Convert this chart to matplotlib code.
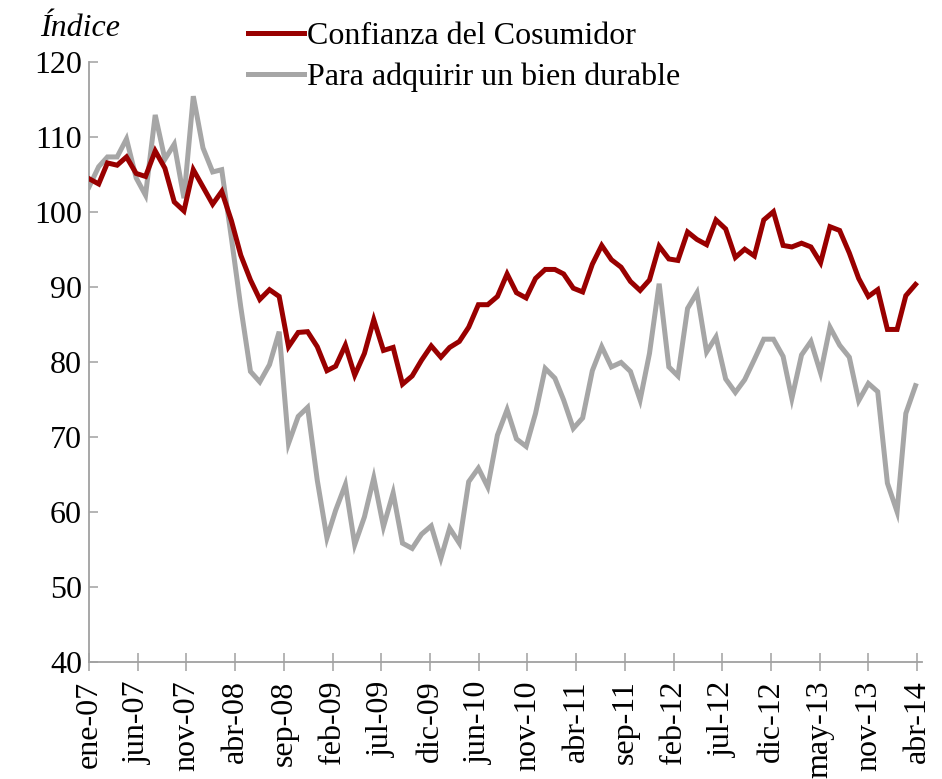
import numpy as np
import pandas as pd
import matplotlib
matplotlib.use("Agg")
import matplotlib.pyplot as plt

plt.rcParams['font.family'] = ['Liberation Serif', 'DejaVu Serif']

# datos mensuales ene-07 .. abr-14
fechas = pd.date_range('2007-01-01', periods=88, freq='MS')

confianza = [104.4, 103.7, 106.5, 106.2, 107.3, 105.1, 104.7, 108.1, 105.8, 101.3,
             100.1, 105.6, 103.3, 101.0, 102.7, 98.8, 94.2, 90.9, 88.3, 89.6,
             88.7, 82.0, 83.9, 84.0, 82.0, 78.8, 79.4, 82.2, 78.2, 81.1,
             85.6, 81.5, 81.9, 77.0, 78.1, 80.2, 82.1, 80.6, 81.9, 82.7,
             84.6, 87.6, 87.6, 88.7, 91.7, 89.2, 88.5, 91.1, 92.3, 92.3,
             91.7, 89.8, 89.3, 93.0, 95.5, 93.6, 92.6, 90.7, 89.5, 90.9,
             95.4, 93.7, 93.5, 97.3, 96.3, 95.6, 98.9, 97.7, 93.9, 95.0,
             94.1, 98.9, 100.0, 95.5, 95.3, 95.8, 95.3, 93.2, 98.0, 97.5,
             94.5, 91.1, 88.7, 89.6, 84.3, 84.3, 88.8, 90.3]

durable = [103.3, 106.0, 107.3, 107.3, 109.7, 104.5, 102.2, 112.9, 107.0, 109.0,
           101.8, 115.4, 108.5, 105.3, 105.6, 96.5, 87.3, 78.7, 77.3, 79.6,
           84.0, 69.1, 72.7, 73.9, 64.2, 56.5, 60.2, 63.6, 55.6, 59.3,
           64.5, 58.0, 62.5, 55.8, 55.1, 57.0, 58.1, 53.8, 57.8, 55.8,
           64.0, 65.8, 63.3, 70.2, 73.6, 69.7, 68.7, 73.1, 79.1, 77.8,
           74.9, 71.1, 72.5, 78.8, 82.0, 79.3, 79.9, 78.7, 74.9, 81.1,
           90.4, 79.3, 78.1, 87.1, 89.2, 81.3, 83.3, 77.7, 75.9, 77.6,
           80.3, 83.0, 83.0, 80.7, 75.1, 80.9, 82.7, 78.5, 84.6, 82.2,
           80.6, 74.8, 77.1, 76.0, 63.8, 60.0, 73.1, 76.8]

etiquetas = ['ene-07', 'jun-07', 'nov-07', 'abr-08', 'sep-08', 'feb-09', 'jul-09',
             'dic-09', 'jun-10', 'nov-10', 'abr-11', 'sep-11', 'feb-12', 'jul-12',
             'dic-12', 'may-13', 'nov-13', 'abr-14']

rojo = '#990000'
gris = '#A6A6A6'
eje = '#A0A0A0'

fig = plt.figure(figsize=(9.42, 7.79), dpi=100)
ax = fig.add_axes([0.0945, 0.1506, 0.884, 0.7702])

ax.plot(fechas, confianza, color=rojo, lw=3.6, label='Confianza del Cosumidor',
        solid_joinstyle='miter', zorder=3)
ax.plot(fechas, durable, color=gris, lw=3.6, label='Para adquirir un bien durable',
        solid_joinstyle='miter', zorder=2)

# eje de fechas: marcas cada 156 dias desde ene-07
inicio = pd.Timestamp('2007-01-01')
marcas = [inicio + pd.Timedelta(days=156 * k) for k in range(len(etiquetas))]
ax.set_xticks(marcas)
ax.set_xticklabels(etiquetas, rotation=90, fontsize=23)
ax.set_xlim(inicio, inicio + pd.Timedelta(days=2667))

ax.set_ylim(40, 120)
ax.set_yticks(np.arange(40, 121, 10))
ax.tick_params(axis='y', direction='in', length=6.5, width=1.1, color=eje,
               labelsize=23, pad=5)
ax.tick_params(axis='x', direction='inout', length=13, width=1.1, color=eje, pad=7)

for s in ['top', 'right']:
    ax.spines[s].set_visible(False)
for s in ['left', 'bottom']:
    ax.spines[s].set_color(eje)
    ax.spines[s].set_linewidth(1.3)

fig.text(40 / 942, 1 - 28 / 779, 'Índice', fontsize=23, style='italic',
         ha='left', va='center')

fig.legend(loc='upper left', bbox_to_anchor=(248 / 942, 1 - 22 / 779),
           frameon=False, fontsize=23, handlelength=1.75, handletextpad=0.1,
           labelspacing=0.36, borderpad=0, borderaxespad=0)

fig.savefig('out.png', dpi=100)
